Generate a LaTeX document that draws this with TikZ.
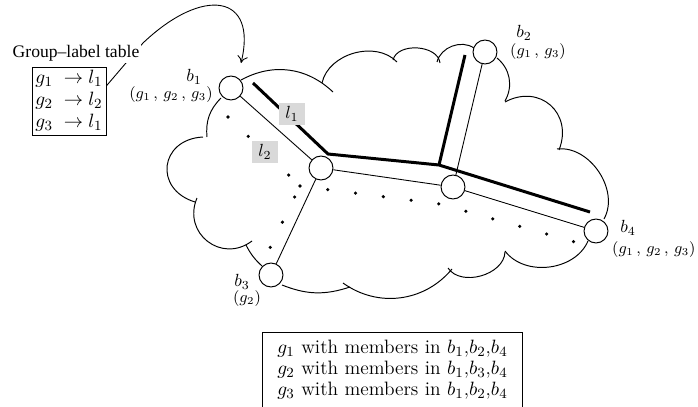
\documentclass[tikz,border=0pt]{standalone}
\usepackage{fontspec}
\newfontfamily\timesfont{Liberation Serif}
\usetikzlibrary{arrows.meta}
\begin{document}
\begin{tikzpicture}[x=0.568pt,y=-0.568pt,
  bnode/.style={circle,draw,line width=0.55pt,minimum size=13.6pt,inner sep=0pt,fill=white},
  edge/.style={line width=0.5pt},
  lonepath/.style={line width=1.7pt},
  ltwopath/.style={line width=2pt,line cap=round,dash pattern=on 0pt off 15.9pt},
  cloudarc/.style={line width=0.55pt},
  glab/.style={fill=black!15,inner sep=0pt,minimum width=15.3pt,minimum height=12pt},
  grp/.style={font=\small},
  bigtxt/.style={font=\fontsize{11}{12.5}\selectfont},
]
\useasboundingbox (0,0) rectangle (698,407);
\clip (0,0) rectangle (698,407);

% cloud outline
\draw[cloudarc] (241,80) to[bend left=36] (333,92);
\draw[cloudarc] (322,83) to[bend left=62] (397,62);
\draw[cloudarc] (393,60) to[bend left=80] (440,63);
\draw[cloudarc] (437,62) to[bend left=55] (474,48);
\draw[cloudarc] (497,58) to[bend left=40] (505,101);
\draw[cloudarc] (505,102) to[bend left=70,looseness=1.4] (559,150);
\draw[cloudarc] (557,149) to[bend left=63] (604,219);
\draw[cloudarc] (588,241) to[bend left=60] (505,251);
\draw[cloudarc] (505,252) to[bend left=72] (448,268);
\draw[cloudarc] (452,269) to[bend left=43] (343,283);
\draw[cloudarc] (350,287) to[bend left=20] (282,285);
\draw[cloudarc] (262,266) to[bend left=10] (246,245);
\draw[cloudarc] (252,241) to[bend left=75,looseness=1.4] (197,198);
\draw[cloudarc] (195,202) to[bend left=80,looseness=1.7] (203,137);
\draw[cloudarc] (207,137) to[bend left=25] (221,98);

% nodes
\node[bnode] (b1) at (231,88) {};
\node[bnode] (b2) at (485,52) {};
\node[bnode] (b3) at (271,275) {};
\node[bnode] (b4) at (596,231) {};
\node[bnode] (na) at (321,168) {};
\node[bnode] (nb) at (453,187) {};

% thin edges
\draw[edge] (b1) -- (na);
\draw[edge] (na) -- (nb);
\draw[edge] (nb) -- (b4);
\draw[edge] (na) -- (b3);
\draw[edge] (b2) -- (nb);

% l1 tree
\coordinate (la) at (253,83);
\coordinate (lb) at (328,154);
\coordinate (lc) at (439,165);
\coordinate (ld) at (590,212);
\coordinate (le) at (465,55);
\draw[lonepath] (la) -- (lb) -- (lc) -- (ld);
\draw[lonepath] (lc) -- (le);

% l2 tree (dots)
\coordinate (da) at (228,117);
\coordinate (dc) at (300,186);
\coordinate (dd) at (269,250);
\coordinate (dm) at (440,204);
\coordinate (de) at (575,242);
\draw[ltwopath] (da) -- (dc) -- (dd);
\draw[ltwopath] (dc) -- (dm) -- (de);

% labels l1, l2
\node[glab] (tl1) at (292,114) {$l_1$};
\node[glab] (tl2) at (265,152) {$l_2$};

% node labels
\node (tb1) at (194,77) {$b_1$};
\node[grp] (gb1) at (171,95) {$(g_1\,,\,g_2\,,\,g_3)$};
\node (tb2) at (524,33) {$b_2$};
\node[grp] (gb2) at (538,52) {$(g_1\,,\,g_3)$};
\node (tb3) at (242,282) {$b_3$};
\node[grp] (gb3) at (247,299) {$(g_2)$};
\node (tb4) at (628,228) {$b_4$};
\node[grp,anchor=west] (gb4) at (606,250) {$(g_1\,,\,g_2\,,\,g_3)$};

% group-label table
\node[draw,line width=0.5pt,bigtxt,minimum width=42pt,minimum height=38.6pt,inner sep=0pt,align=center] (tbl) at (69,101)
  {$g_1\;\rightarrow l_1$\\$g_2\;\rightarrow l_2$\\$g_3\;\rightarrow l_1$};
\coordinate (aend) at (241,63);
\draw[line width=0.5pt,-{To[length=4pt,width=6pt]}] (tbl.22) -- (143,43) .. controls (203,-14) and (258,-6) .. (aend);
\node[fill=white,inner sep=1pt,font=\timesfont] (gl) at (76,53) {Group–label table};

% bottom box
\node[draw,line width=0.5pt,anchor=north west,text width=140pt,inner xsep=3.85pt,inner ysep=4.5pt,align=center,font=\fontsize{11}{11.9}\selectfont] (gbox) at (262,332)
  {$g_1$ with members in $b_1$,$b_2$,$b_4$\\
   $g_2$ with members in $b_1$,$b_3$,$b_4$\\
   $g_3$ with members in $b_1$,$b_2$,$b_4$\\
   \rule{0pt}{8pt}};
\end{tikzpicture}
\end{document}
